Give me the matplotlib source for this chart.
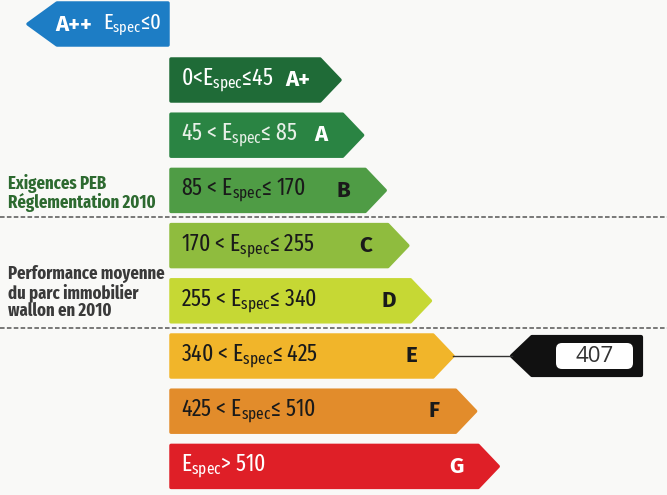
import matplotlib
matplotlib.use("Agg")
import matplotlib.pyplot as plt
from matplotlib.patches import Polygon, FancyBboxPatch

# ---------------- data ----------------
classes = ["A+", "A", "B", "C", "D", "E", "F", "G"]
lower = [0, 45, 85, 170, 255, 340, 425, 510]
upper = [45, 85, 170, 255, 340, 425, 510, None]
range_labels = [
    r"0<$\mathregular{E_{spec}}$≤45",
    r"45 < $\mathregular{E_{spec}}$≤ 85",
    r"85 < $\mathregular{E_{spec}}$≤ 170",
    r"170 < $\mathregular{E_{spec}}$≤ 255",
    r"255 < $\mathregular{E_{spec}}$≤ 340",
    r"340 < $\mathregular{E_{spec}}$≤ 425",
    r"425 < $\mathregular{E_{spec}}$≤ 510",
    r"$\mathregular{E_{spec}}$> 510",
]
bar_colors = ["#1f6b37", "#2a8443", "#4f9c45", "#8fbc3e", "#c6d834",
              "#f1b52a", "#e28c2b", "#df1f27"]
text_colors = ["white", "white", "#1a1a1a", "#1a1a1a", "#1a1a1a",
               "#1a1a1a", "#1a1a1a", "white"]
range_text_colors = ["white", "#e8f0e8", "#1a1a1a", "#1a1a1a", "#1a1a1a",
                     "#1a1a1a", "#1a1a1a", "white"]
top_class = "A++"
top_label = r"$\mathregular{E_{spec}}$≤0"
top_color = "#1d7dc5"
value = 407
note_peb = "Exigences PEB\nRéglementation 2010"
note_parc = "Performance moyenne\ndu parc immobilier\nwallon en 2010"

# ---------------- layout ----------------
COND = ["Fira Sans Extra Condensed", "Barlow Condensed", "Fira Sans Condensed",
        "Asap Condensed", "DejaVu Sans"]
BOLD = ["Fira Sans", "Open Sans", "DejaVu Sans"]

fig = plt.figure(figsize=(6.67, 4.95), dpi=100)
fig.patch.set_facecolor("#f9f9f7")
ax = fig.add_axes([0, 0, 1, 1])
ax.set_xlim(0, 667)
ax.set_ylim(495, 0)
ax.axis("off")

x0 = 171
y_first = 59
step = 55.2
h = 42
tip0 = 340
tip_step = 22.6
slope = 20

def row_geom(i):
    top = y_first + i * step
    tip = tip0 + i * tip_step
    return top, top + h, tip

for i, cls in enumerate(classes):
    top, bot, tip = row_geom(i)
    mid = (top + bot) / 2
    poly = Polygon([(x0, top), (tip - slope, top), (tip, mid),
                    (tip - slope, bot), (x0, bot)], closed=True,
                   facecolor=bar_colors[i], edgecolor=bar_colors[i],
                   linewidth=2.5, joinstyle="round")
    ax.add_patch(poly)
    ax.text(x0 + 10, mid + 1, range_labels[i], fontsize=17, family=COND,
            color=range_text_colors[i], va="center", ha="left")
    ax.text(tip - 42, mid, cls, fontsize=16, family=BOLD, fontweight="bold",
            color=text_colors[i], va="center", ha="center")

# A++ bar (pointing left)
t_top, t_bot = 3, 45
t_mid = (t_top + t_bot) / 2
ax.add_patch(Polygon([(28, t_mid), (57, t_top), (168, t_top), (168, t_bot),
                      (57, t_bot)], closed=True, facecolor=top_color,
                     edgecolor=top_color, linewidth=2.5, joinstyle="round"))
ax.text(55, t_mid + 1, top_class, fontsize=16, family=BOLD, fontweight="bold",
        color="white", va="center", ha="left")
ax.text(103, t_mid + 1, top_label, fontsize=16, family=COND, color="white",
        va="center", ha="left")

# dashed separators
for y in (217, 328):
    ax.plot([0, 667], [y, y], color="#555555", linewidth=1.1,
            linestyle=(0, (3, 1.5)))

# side notes
ax.text(8, 193, note_peb, fontsize=13, family=COND, fontweight="bold",
        color="#2d6a30", va="center", ha="left", linespacing=1.0)
ax.text(8, 292, note_parc, fontsize=13, family=COND, fontweight="bold",
        color="#3a3a3a", va="center", ha="left", linespacing=1.0)

# indicator
idx = next(i for i in range(len(classes))
           if value > lower[i] and (upper[i] is None or value <= upper[i]))
top, bot, tip = row_geom(idx)
mid = (top + bot) / 2
ind_tip = 512
ax.plot([tip, ind_tip], [mid, mid], color="#333333", linewidth=1)
ax.add_patch(Polygon([(ind_tip, mid), (ind_tip + 20, mid - 19),
                      (641, mid - 19), (641, mid + 19), (ind_tip + 20, mid + 19)],
                     closed=True, facecolor="#111111", edgecolor="#111111",
                     linewidth=3, joinstyle="round"))
ax.add_patch(FancyBboxPatch((556, mid - 13), 77, 26,
                            boxstyle="round,pad=0,rounding_size=6",
                            facecolor="white", edgecolor="none"))
ax.text(594.5, mid + 1, str(value), fontsize=16, family=["Open Sans", "DejaVu Sans"],
        color="#333333", va="center", ha="center")

fig.savefig("out.png", dpi=100, facecolor=fig.get_facecolor())
